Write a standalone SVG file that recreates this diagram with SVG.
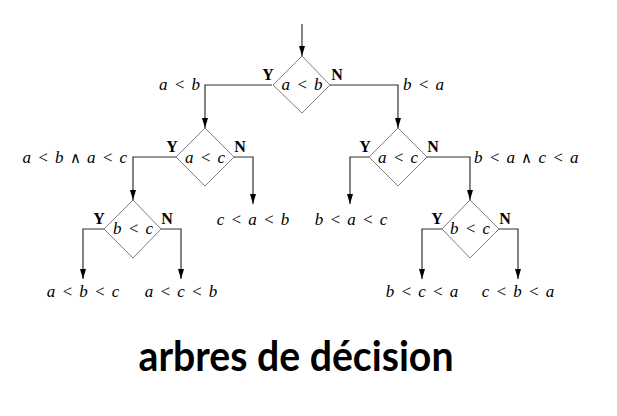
<svg xmlns="http://www.w3.org/2000/svg" width="617" height="416" viewBox="0 0 617 416">
<style>
.dia{fill:#fff;stroke:#808080;stroke-width:1}
.con{fill:none;stroke:#333;stroke-width:1.2}
.m{font-family:"Liberation Serif","DejaVu Serif",serif;font-style:italic;font-size:17px;word-spacing:2px;fill:#000}
.w{font-family:"DejaVu Sans",sans-serif;font-style:normal;font-weight:200;font-size:15px}
.yn{font-family:"Liberation Serif","DejaVu Serif",serif;font-weight:bold;font-size:16px;fill:#000}
.title{font-family:Lato,"Open Sans",sans-serif;font-weight:bold;font-size:42px;fill:#000}
</style>
<defs>
<marker id="arr" markerWidth="10" markerHeight="6" refX="10" refY="3" orient="auto" markerUnits="userSpaceOnUse">
<path d="M0,0 L10,3 L0,6 Z" fill="#000"/>
</marker>
</defs>
<rect width="617" height="416" fill="#fff"/>
<g id="connectors">
<path class="con" d="M302,24 V56" marker-end="url(#arr)"/>
<path class="con" d="M272,85 H205 V128" marker-end="url(#arr)"/>
<path class="con" d="M330,85 H398 V128" marker-end="url(#arr)"/>
<path class="con" d="M176,157 H133 V200" marker-end="url(#arr)"/>
<path class="con" d="M234,157 H253 V204" marker-end="url(#arr)"/>
<path class="con" d="M369,157 H350 V204" marker-end="url(#arr)"/>
<path class="con" d="M427,157 H470 V200" marker-end="url(#arr)"/>
<path class="con" d="M104,229 H83 V279" marker-end="url(#arr)"/>
<path class="con" d="M161,229 H181 V279" marker-end="url(#arr)"/>
<path class="con" d="M442,229 H422 V279" marker-end="url(#arr)"/>
<path class="con" d="M499,229 H518 V279" marker-end="url(#arr)"/>
</g>
<g id="n1">
<path class="dia" d="M302,56 L330,85 L302,113 L273,85 Z"/>
<text class="m" x="302" y="90" text-anchor="middle">a &lt; b</text>
<text class="yn" x="268" y="80" text-anchor="middle">Y</text>
<text class="yn" x="337" y="80" text-anchor="middle">N</text>
</g>
<g id="n2">
<path class="dia" d="M205,128 L234,157 L205,186 L176,157 Z"/>
<text class="m" x="205" y="163" text-anchor="middle">a &lt; c</text>
<text class="yn" x="172" y="152" text-anchor="middle">Y</text>
<text class="yn" x="240" y="152" text-anchor="middle">N</text>
</g>
<g id="n3">
<path class="dia" d="M398,128 L427,157 L398,186 L369,157 Z"/>
<text class="m" x="398" y="163" text-anchor="middle">a &lt; c</text>
<text class="yn" x="365" y="152" text-anchor="middle">Y</text>
<text class="yn" x="433" y="152" text-anchor="middle">N</text>
</g>
<g id="n4">
<path class="dia" d="M133,200 L161,229 L133,258 L104,229 Z"/>
<text class="m" x="133" y="234" text-anchor="middle">b &lt; c</text>
<text class="yn" x="99" y="224" text-anchor="middle">Y</text>
<text class="yn" x="167" y="224" text-anchor="middle">N</text>
</g>
<g id="n5">
<path class="dia" d="M470,200 L499,229 L470,258 L442,229 Z"/>
<text class="m" x="470" y="234" text-anchor="middle">b &lt; c</text>
<text class="yn" x="437" y="224" text-anchor="middle">Y</text>
<text class="yn" x="505" y="224" text-anchor="middle">N</text>
</g>
<g id="labels">
<text class="m" x="200" y="90" text-anchor="end">a &lt; b</text>
<text class="m" x="403" y="90">b &lt; a</text>
<text class="m" x="127" y="163" text-anchor="end">a &lt; b <tspan class="w">∧</tspan> a &lt; c</text>
<text class="m" x="474" y="163">b &lt; a <tspan class="w">∧</tspan> c &lt; a</text>
<text class="m" x="253" y="225" text-anchor="middle">c &lt; a &lt; b</text>
<text class="m" x="351" y="225" text-anchor="middle">b &lt; a &lt; c</text>
</g>
<g id="leaves">
<text class="m" x="83" y="297" text-anchor="middle">a &lt; b &lt; c</text>
<text class="m" x="181" y="297" text-anchor="middle">a &lt; c &lt; b</text>
<text class="m" x="422" y="297" text-anchor="middle">b &lt; c &lt; a</text>
<text class="m" x="518" y="297" text-anchor="middle">c &lt; b &lt; a</text>
</g>
<text class="title" x="296" y="371" text-anchor="middle" textLength="315" lengthAdjust="spacingAndGlyphs">arbres de décision</text>
</svg>
